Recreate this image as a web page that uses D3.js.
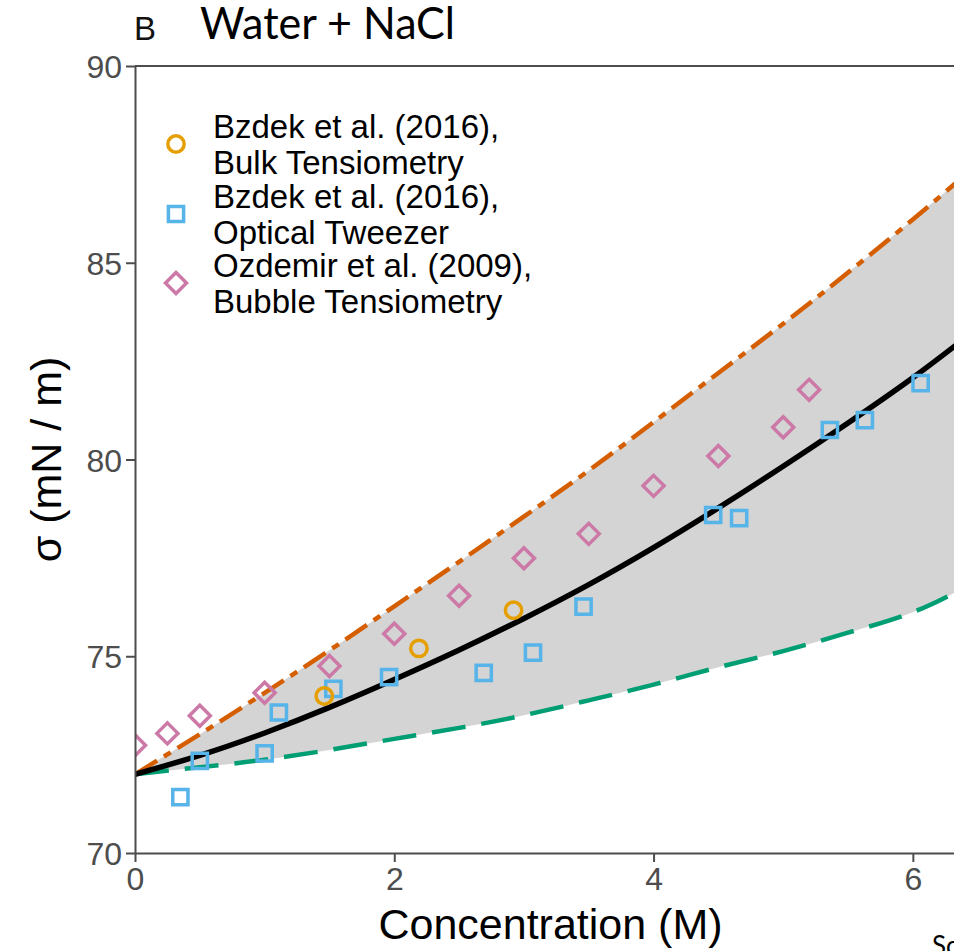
<!DOCTYPE html>
<html>
<head>
<meta charset="utf-8">
<script src="https://cdn.jsdelivr.net/npm/d3@7"></script>
<style>
    body { margin: 0; background: #fff; }
    svg { display: block; }
    .tick text { fill: #4d4d4d; }
    .tick line { stroke: #4d4d4d; stroke-width: 2px; }
    .domain { stroke: #4d4d4d; stroke-width: 2px; fill: none; }
</style>
</head>
<body>
<svg id="chart" width="954" height="951"></svg>
<script>
var width = 954;
var height = 951;
var font = '"Liberation Sans", Arial, Helvetica, sans-serif';

// fitted curves (upper bound, model, lower bound)
var lineX = [0, 0.5, 1, 1.5, 2, 2.5, 3, 3.5, 4, 4.5, 5, 5.5, 6, 6.4];
var upperY = [72.0, 73.02, 74.07, 75.15, 76.27, 77.4, 78.55, 79.72, 80.95, 82.2, 83.45, 84.75, 86.1, 87.22];
var modelY = [72.0, 72.48, 73.05, 73.7, 74.41, 75.16, 75.96, 76.82, 77.76, 78.77, 79.83, 80.93, 82.08, 83.08];
var lowerY = [72.0, 72.18, 72.37, 72.62, 72.9, 73.18, 73.5, 73.88, 74.28, 74.72, 75.13, 75.6, 76.12, 76.75];

// measurements
var bulkX = [1.46, 2.19, 2.92];
var bulkY = [73.99, 75.20, 76.17];
var tweezerX = [0.35, 0.50, 1.00, 1.11, 1.53, 1.96, 2.69, 3.07, 3.46, 4.46, 4.66, 5.36, 5.63, 6.06];
var tweezerY = [71.42, 72.34, 72.53, 73.57, 74.17, 74.47, 74.58, 75.09, 76.26, 78.59, 78.51, 80.75, 81.00, 81.94];
var bubbleX = [0, 0.25, 0.5, 1, 1.5, 2, 2.5, 3, 3.5, 4, 4.5, 5, 5.2];
var bubbleY = [72.74, 73.04, 73.49, 74.07, 74.75, 75.57, 76.54, 77.49, 78.11, 79.33, 80.09, 80.82, 81.77];

var xTicks = [0, 2, 4, 6];
var yTicks = [70, 75, 80, 85, 90];

var legendLabels = [
    ['Bzdek et al. (2016),', 'Bulk Tensiometry'],
    ['Bzdek et al. (2016),', 'Optical Tweezer'],
    ['Ozdemir et al. (2009),', 'Bubble Tensiometry']
];
var legendShapes = ['circle', 'square', 'diamond'];

var colors = {
    circle: '#E69F00',
    square: '#56B4E9',
    diamond: '#CC79A7',
    upper: '#D55E00',
    lower: '#009E73',
    model: '#000000'
};

var panel = { left: 135, top: 66, right: 966, bottom: 853 };

var x = d3.scaleLinear().domain([0, 6.41]).range([panel.left, panel.right]);
var y = d3.scaleLinear().domain([70, 90]).range([panel.bottom, panel.top]);

var svg = d3.select('#chart').attr('font-family', font);

svg.append('defs').append('clipPath')
    .attr('id', 'panel-clip')
    .append('rect')
    .attr('x', panel.left)
    .attr('y', panel.top)
    .attr('width', panel.right - panel.left)
    .attr('height', panel.bottom - panel.top);

var curveData = lineX.map(function(d, i) {
    return { x: d, upper: upperY[i], model: modelY[i], lower: lowerY[i] };
});

var plot = svg.append('g').attr('clip-path', 'url(#panel-clip)');

plot.append('path')
    .datum(curveData)
    .attr('fill', '#d4d4d4')
    .attr('d', d3.area()
        .curve(d3.curveNatural)
        .x(function(d) { return x(d.x); })
        .y0(function(d) { return y(d.lower); })
        .y1(function(d) { return y(d.upper); }));

function drawCurve(key, color, dash, w) {
    plot.append('path')
        .datum(curveData)
        .attr('fill', 'none')
        .attr('stroke', color)
        .attr('stroke-width', w)
        .attr('stroke-dasharray', dash)
        .attr('d', d3.line()
            .curve(d3.curveNatural)
            .x(function(d) { return x(d.x); })
            .y(function(d) { return y(d[key]); }));
}

drawCurve('upper', colors.upper, '26,8,8,8', 4.5);
drawCurve('lower', colors.lower, '34,16', 4.5);
drawCurve('model', colors.model, null, 5.5);

function shapePath(shape) {
    if(shape === 'circle') {
        return 'M 8.2 0 A 8.2 8.2 0 1 1 -8.2 0 A 8.2 8.2 0 1 1 8.2 0 Z';
    }
    if(shape === 'square') {
        return 'M -7.6 -7.6 L 7.6 -7.6 L 7.6 7.6 L -7.6 7.6 Z';
    }
    return 'M 0 -10.5 L 10.5 0 L 0 10.5 L -10.5 0 Z';
}

function drawPoints(xs, ys, shape) {
    plot.append('g')
        .selectAll('path')
        .data(xs.map(function(d, i) { return { x: d, y: ys[i] }; }))
        .join('path')
        .attr('transform', function(d) { return 'translate(' + x(d.x) + ',' + y(d.y) + ')'; })
        .attr('d', shapePath(shape))
        .attr('fill', 'none')
        .attr('stroke', colors[shape])
        .attr('stroke-width', 3.5);
}

drawPoints(bubbleX, bubbleY, 'diamond');
drawPoints(tweezerX, tweezerY, 'square');
drawPoints(bulkX, bulkY, 'circle');

// axes
svg.append('g')
    .attr('transform', 'translate(' + panel.left + ',0)')
    .call(d3.axisLeft(y).tickValues(yTicks).tickFormat(d3.format('d'))
        .tickSize(9).tickSizeOuter(0).tickPadding(4))
    .attr('font-family', font)
    .attr('font-size', 32)
    .call(function(g) { g.selectAll('text').attr('dy', '0.36em'); });

svg.append('g')
    .attr('transform', 'translate(0,' + panel.bottom + ')')
    .call(d3.axisBottom(x).tickValues(xTicks).tickFormat(d3.format('d'))
        .tickSize(9).tickSizeOuter(0).tickPadding(3))
    .attr('font-family', font)
    .attr('font-size', 32)
    .call(function(g) { g.selectAll('text').attr('dy', '0.78em'); });

svg.append('line')
    .attr('x1', panel.left).attr('x2', panel.right)
    .attr('y1', panel.top).attr('y2', panel.top)
    .attr('stroke', '#4d4d4d')
    .attr('stroke-width', 2);

// axis titles
svg.append('text')
    .attr('x', (panel.left + panel.right) / 2)
    .attr('y', 939)
    .attr('text-anchor', 'middle')
    .attr('font-size', 43)
    .attr('fill', '#000')
    .text('Concentration (M)');

svg.append('text')
    .attr('transform', 'translate(61,' + ((panel.top + panel.bottom) / 2) + ') rotate(-90)')
    .attr('text-anchor', 'middle')
    .attr('font-size', 43)
    .attr('fill', '#000')
    .text('σ (mN / m)');

// panel tag and title
svg.append('text')
    .attr('x', 134)
    .attr('y', 40)
    .attr('font-size', 33)
    .attr('fill', '#111')
    .text('B');

svg.append('text')
    .attr('x', 200)
    .attr('y', 39)
    .attr('font-family', 'Lato, "Open Sans", sans-serif')
    .attr('font-size', 44)
    .attr('fill', '#000')
    .attr('textLength', 255)
    .attr('lengthAdjust', 'spacingAndGlyphs')
    .text('Water + NaCl');

// legend
var legend = svg.append('g');
var legendY = [144, 214, 283];

legendShapes.forEach(function(shape, i) {
    legend.append('path')
        .attr('transform', 'translate(176,' + legendY[i] + ')')
        .attr('d', shapePath(shape))
        .attr('fill', 'none')
        .attr('stroke', colors[shape])
        .attr('stroke-width', 3.5);

    legend.append('text')
        .attr('x', 213)
        .attr('y', legendY[i] - 6)
        .attr('font-size', 33)
        .attr('fill', '#000')
        .text(legendLabels[i][0]);

    legend.append('text')
        .attr('x', 213)
        .attr('y', legendY[i] + 30)
        .attr('font-size', 33)
        .attr('fill', '#000')
        .text(legendLabels[i][1]);
});

// cropped source note
svg.append('text')
    .attr('x', 932)
    .attr('y', 955)
    .attr('font-family', 'Lato, sans-serif')
    .attr('font-size', 26)
    .attr('fill', '#000')
    .text('Sc');
</script>
</body>
</html>
